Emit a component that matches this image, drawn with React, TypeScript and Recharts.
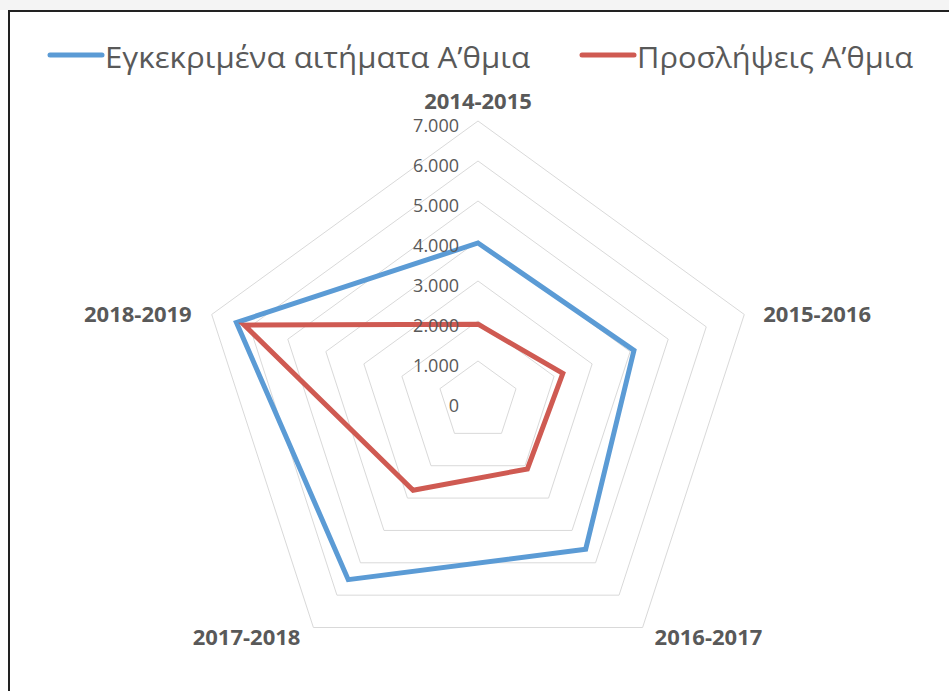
import React from "react";
import {
  RadarChart,
  Radar,
  PolarGrid,
  PolarAngleAxis,
  PolarRadiusAxis,
  Legend,
} from "recharts";

const years = ["2014-2015", "2015-2016", "2016-2017", "2017-2018", "2018-2019"];
const approved = [3950, 4100, 4580, 5520, 6350];
const hires = [1920, 2230, 2100, 2760, 6140];
const radiusTicks = [0, 1000, 2000, 3000, 4000, 5000, 6000, 7000];

const seriesNames = ["Εγκεκριμένα αιτήματα Α’θμια", "Προσλήψεις Α’θμια"];
const seriesColors = ["#5b9bd5", "#cf5a52"];

const data = years.map((y, i) => ({
  year: y,
  approved: approved[i],
  hires: hires[i],
}));

const TEXT = "#595959";
const FONT = "'Open Sans', sans-serif";
const R = 280;

const fmt = (v: number) =>
  v === 0 ? "0" : v.toString().replace(/\B(?=(\d{3})+(?!\d))/g, ".");

const AngleTick = (props: any) => {
  const { x, y, cx, cy, payload } = props;
  const dx = x - cx;
  const dy = y - cy;
  const d = Math.sqrt(dx * dx + dy * dy) || 1;
  const vx = cx + (dx / d) * R;
  const vy = cy + (dy / d) * R;
  let tx = vx;
  let ty = vy;
  let anchor: "start" | "middle" | "end" = "middle";
  if (Math.abs(dx) < 1) {
    ty = vy - 21;
  } else if (dx > 0) {
    anchor = "start";
    if (dy < 0) {
      tx = vx + 19;
      ty = vy - 1;
    } else {
      tx = vx + 12;
      ty = vy + 8;
    }
  } else {
    anchor = "end";
    if (dy < 0) {
      tx = vx - 20;
      ty = vy - 1;
    } else {
      tx = vx - 13;
      ty = vy + 8;
    }
  }
  return (
    <text
      x={tx}
      y={ty}
      textAnchor={anchor}
      dominantBaseline="central"
      fill={TEXT}
      fontFamily={FONT}
      fontWeight={700}
      fontSize={22}
    >
      {payload.value}
    </text>
  );
};

const RadiusTick = (props: any) => {
  const { x, y, payload } = props;
  return (
    <text
      x={x - 19}
      y={y + 4}
      textAnchor="end"
      dominantBaseline="central"
      fill={TEXT}
      fontFamily={FONT}
      fontSize={18}
    >
      {fmt(payload.value)}
    </text>
  );
};

// legend: line start and text width per series
const legendX = [50, 582];
const legendTextWidth = [425, 276];

const LegendContent = () => (
  <svg width={949} height={90}>
    {seriesNames.map((name, i) => {
      const x0 = legendX[i];
      return (
        <g key={name}>
          <line
            x1={x0}
            x2={x0 + 52}
            y1={55}
            y2={55}
            stroke={seriesColors[i]}
            strokeWidth={5}
            strokeLinecap="round"
          />
          <text
            x={x0 + 55}
            y={68}
            fill={TEXT}
            fontFamily={FONT}
            fontSize={29}
            textLength={legendTextWidth[i]}
            lengthAdjust="spacingAndGlyphs"
          >
            {name}
          </text>
        </g>
      );
    })}
  </svg>
);

export default function App() {
  return (
    <div
      style={{
        position: "absolute",
        left: 0,
        top: 0,
        width: 949,
        height: 691,
        overflow: "hidden",
        background: "#fff",
      }}
    >
      <div
        style={{
          position: "absolute",
          left: 0,
          top: 0,
          width: 949,
          height: 10,
          background: "#f4f4f4",
        }}
      />
      <div
        style={{
          position: "absolute",
          left: 8,
          top: 10,
          width: 1000,
          height: 1000,
          borderLeft: "2px solid #222",
          borderTop: "2px solid #222",
        }}
      />
      <div style={{ position: "absolute", left: 0, top: 0 }}>
        <RadarChart
          width={949}
          height={691}
          data={data}
          cx={478}
          cy={401}
          outerRadius={R}
          margin={{ top: 0, right: 0, bottom: 0, left: 0 }}
        >
          <PolarGrid
            gridType="polygon"
            radialLines={false}
            stroke="#d9d9d9"
            strokeWidth={1}
          />
          <PolarAngleAxis
            dataKey="year"
            tick={<AngleTick />}
            tickLine={false}
            axisLine={false}
          />
          <PolarRadiusAxis
            angle={90}
            domain={[0, 7000]}
            ticks={radiusTicks}
            tick={<RadiusTick />}
            axisLine={false}
            tickLine={false}
          />
          <Radar
            name={seriesNames[0]}
            dataKey="approved"
            stroke={seriesColors[0]}
            strokeWidth={5}
            fill="none"
            fillOpacity={0}
            dot={false}
            isAnimationActive={false}
          />
          <Radar
            name={seriesNames[1]}
            dataKey="hires"
            stroke={seriesColors[1]}
            strokeWidth={5}
            fill="none"
            fillOpacity={0}
            dot={false}
            isAnimationActive={false}
          />
          <Legend
            content={<LegendContent />}
            wrapperStyle={{ position: "absolute", left: 0, top: 0, width: 949, height: 90 }}
          />
        </RadarChart>
      </div>
    </div>
  );
}
